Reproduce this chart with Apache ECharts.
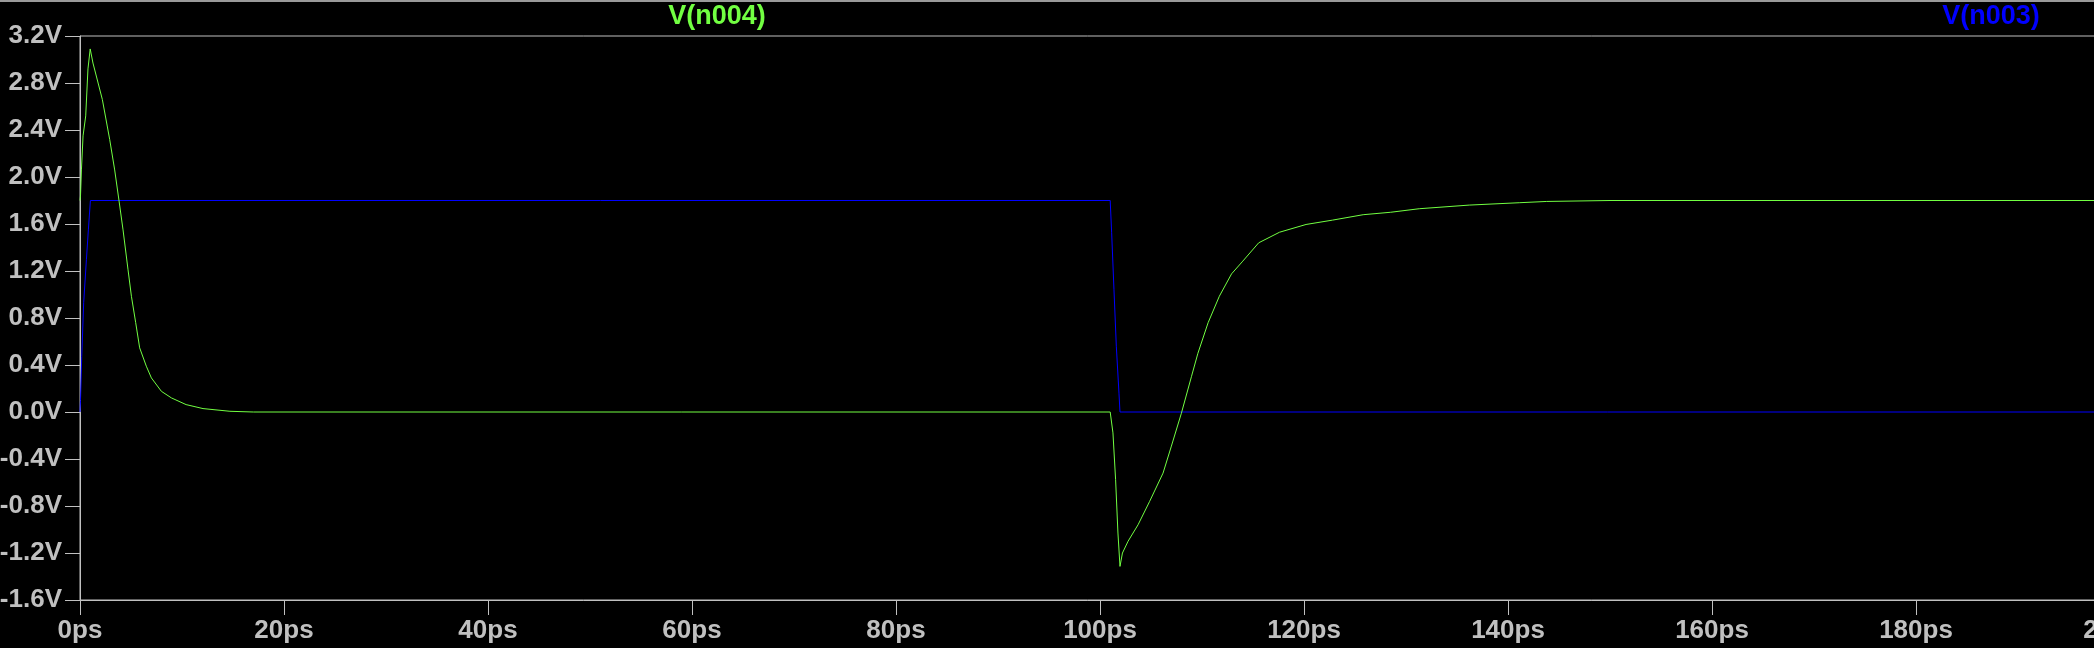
<!DOCTYPE html>
<html>
<head>
<meta charset="utf-8">
<script src="https://cdn.jsdelivr.net/npm/echarts@6/dist/echarts.min.js"></script>
<style>
html,body{margin:0;padding:0;background:#000;}
#chart{width:2094px;height:648px;}
</style>
</head>
<body>
<div id="chart"></div>
<script>
// Trace names
const traceNames = ['V(n004)', 'V(n003)'];

// V(n004) (green) time in ps and voltage in V
const timeN004 = [0, 0.05, 0.14, 0.3, 0.56, 0.78, 1.0, 1.27, 2.19, 2.91, 3.4, 3.83, 4.22, 4.71, 5.04, 5.46, 5.85, 6.5, 7.0, 7.98, 8.96, 10.4, 12.06, 14.7, 17,
  101.0, 101.27, 101.53, 101.76, 101.96, 102.2, 102.75, 103.73, 104.87, 106.18, 107.0, 107.98, 108.96, 109.6, 110.6, 111.7, 112.9, 114.0, 115.56, 117.6, 120.2, 122.8, 125.8, 128.5, 131.3, 136.2, 141.1, 143.8, 150, 200];
const voltN004 = [1.8, 1.84, 2.06, 2.35, 2.52, 2.92, 3.09, 2.97, 2.66, 2.32, 2.06, 1.795, 1.55, 1.21, 0.985, 0.76, 0.546, 0.39, 0.29, 0.176, 0.12, 0.063, 0.029, 0.006, 0,
  0, -0.178, -0.576, -1.03, -1.314, -1.2, -1.10, -0.96, -0.76, -0.52, -0.29, -0.01, 0.30, 0.50, 0.76, 0.985, 1.176, 1.284, 1.44, 1.53, 1.596, 1.633, 1.679, 1.70, 1.73, 1.761, 1.781, 1.792, 1.80, 1.80];

// V(n003) (blue)
const timeN003 = [0, 0.05, 0.17, 0.36, 0.63, 0.82, 1.02, 101.0, 101.14, 101.37, 101.6, 101.86, 101.96, 200];
const voltN003 = [0, 0.1, 0.47, 0.93, 1.30, 1.55, 1.8, 1.8, 1.53, 1.04, 0.56, 0.16, 0, 0];

// Axis ticks
const xTicks = {min: 0, max: 200, step: 20, unit: 'ps'};
const yTicks = {min: -1.6, max: 3.2, step: 0.4, unit: 'V'};

const GREEN = '#72ff42';
const BLUE = '#0000ff';
const GRAY = '#c0c0c0';
const FONT = '"Liberation Sans", Arial, sans-serif';

function pairs(t, v) { return t.map((x, i) => [x, v[i]]); }

const chart = echarts.init(document.getElementById('chart'));
chart.setOption({
  backgroundColor: '#000000',
  animation: false,
  grid: {
    left: 80, top: 36, right: -26, bottom: 48,
    show: true, borderColor: GRAY, borderWidth: 1,
    containLabel: false, outerBoundsMode: 'none'
  },
  xAxis: {
    type: 'value',
    min: xTicks.min, max: xTicks.max, interval: xTicks.step,
    axisLine: {show: true, onZero: false, lineStyle: {color: GRAY, width: 1}},
    axisTick: {show: true, length: 15, lineStyle: {color: GRAY, width: 1}},
    splitLine: {show: false},
    axisLabel: {
      color: GRAY, fontFamily: FONT, fontWeight: 'bold', fontSize: 26, margin: 18,
      formatter: v => Math.round(v) + xTicks.unit
    }
  },
  yAxis: {
    type: 'value',
    min: yTicks.min, max: yTicks.max, interval: yTicks.step,
    axisLine: {show: true, onZero: false, lineStyle: {color: GRAY, width: 1}},
    axisTick: {show: true, length: 15, lineStyle: {color: GRAY, width: 1}},
    splitLine: {show: false},
    axisLabel: {
      color: GRAY, fontFamily: FONT, fontWeight: 'bold', fontSize: 26, margin: 18,
      formatter: v => (Math.abs(v) < 1e-9 ? 0 : v).toFixed(1) + yTicks.unit
    }
  },
  graphic: [
    {type: 'rect', shape: {x: 0, y: 0, width: 2094, height: 2}, style: {fill: '#9a9a9a'}, z: 10},
    {type: 'text', x: 717, y: 17, style: {text: traceNames[0], fill: GREEN, font: 'bold 27px ' + FONT, align: 'center', verticalAlign: 'middle'}},
    {type: 'text', x: 1991, y: 17, style: {text: traceNames[1], fill: BLUE, font: 'bold 27px ' + FONT, align: 'center', verticalAlign: 'middle'}}
  ],
  series: [
    {
      name: traceNames[1], type: 'line', data: pairs(timeN003, voltN003),
      showSymbol: false, lineStyle: {color: BLUE, width: 1}, itemStyle: {color: BLUE}, z: 2
    },
    {
      name: traceNames[0], type: 'line', data: pairs(timeN004, voltN004),
      showSymbol: false, lineStyle: {color: GREEN, width: 1}, itemStyle: {color: GREEN}, z: 3
    }
  ]
});
</script>
</body>
</html>
